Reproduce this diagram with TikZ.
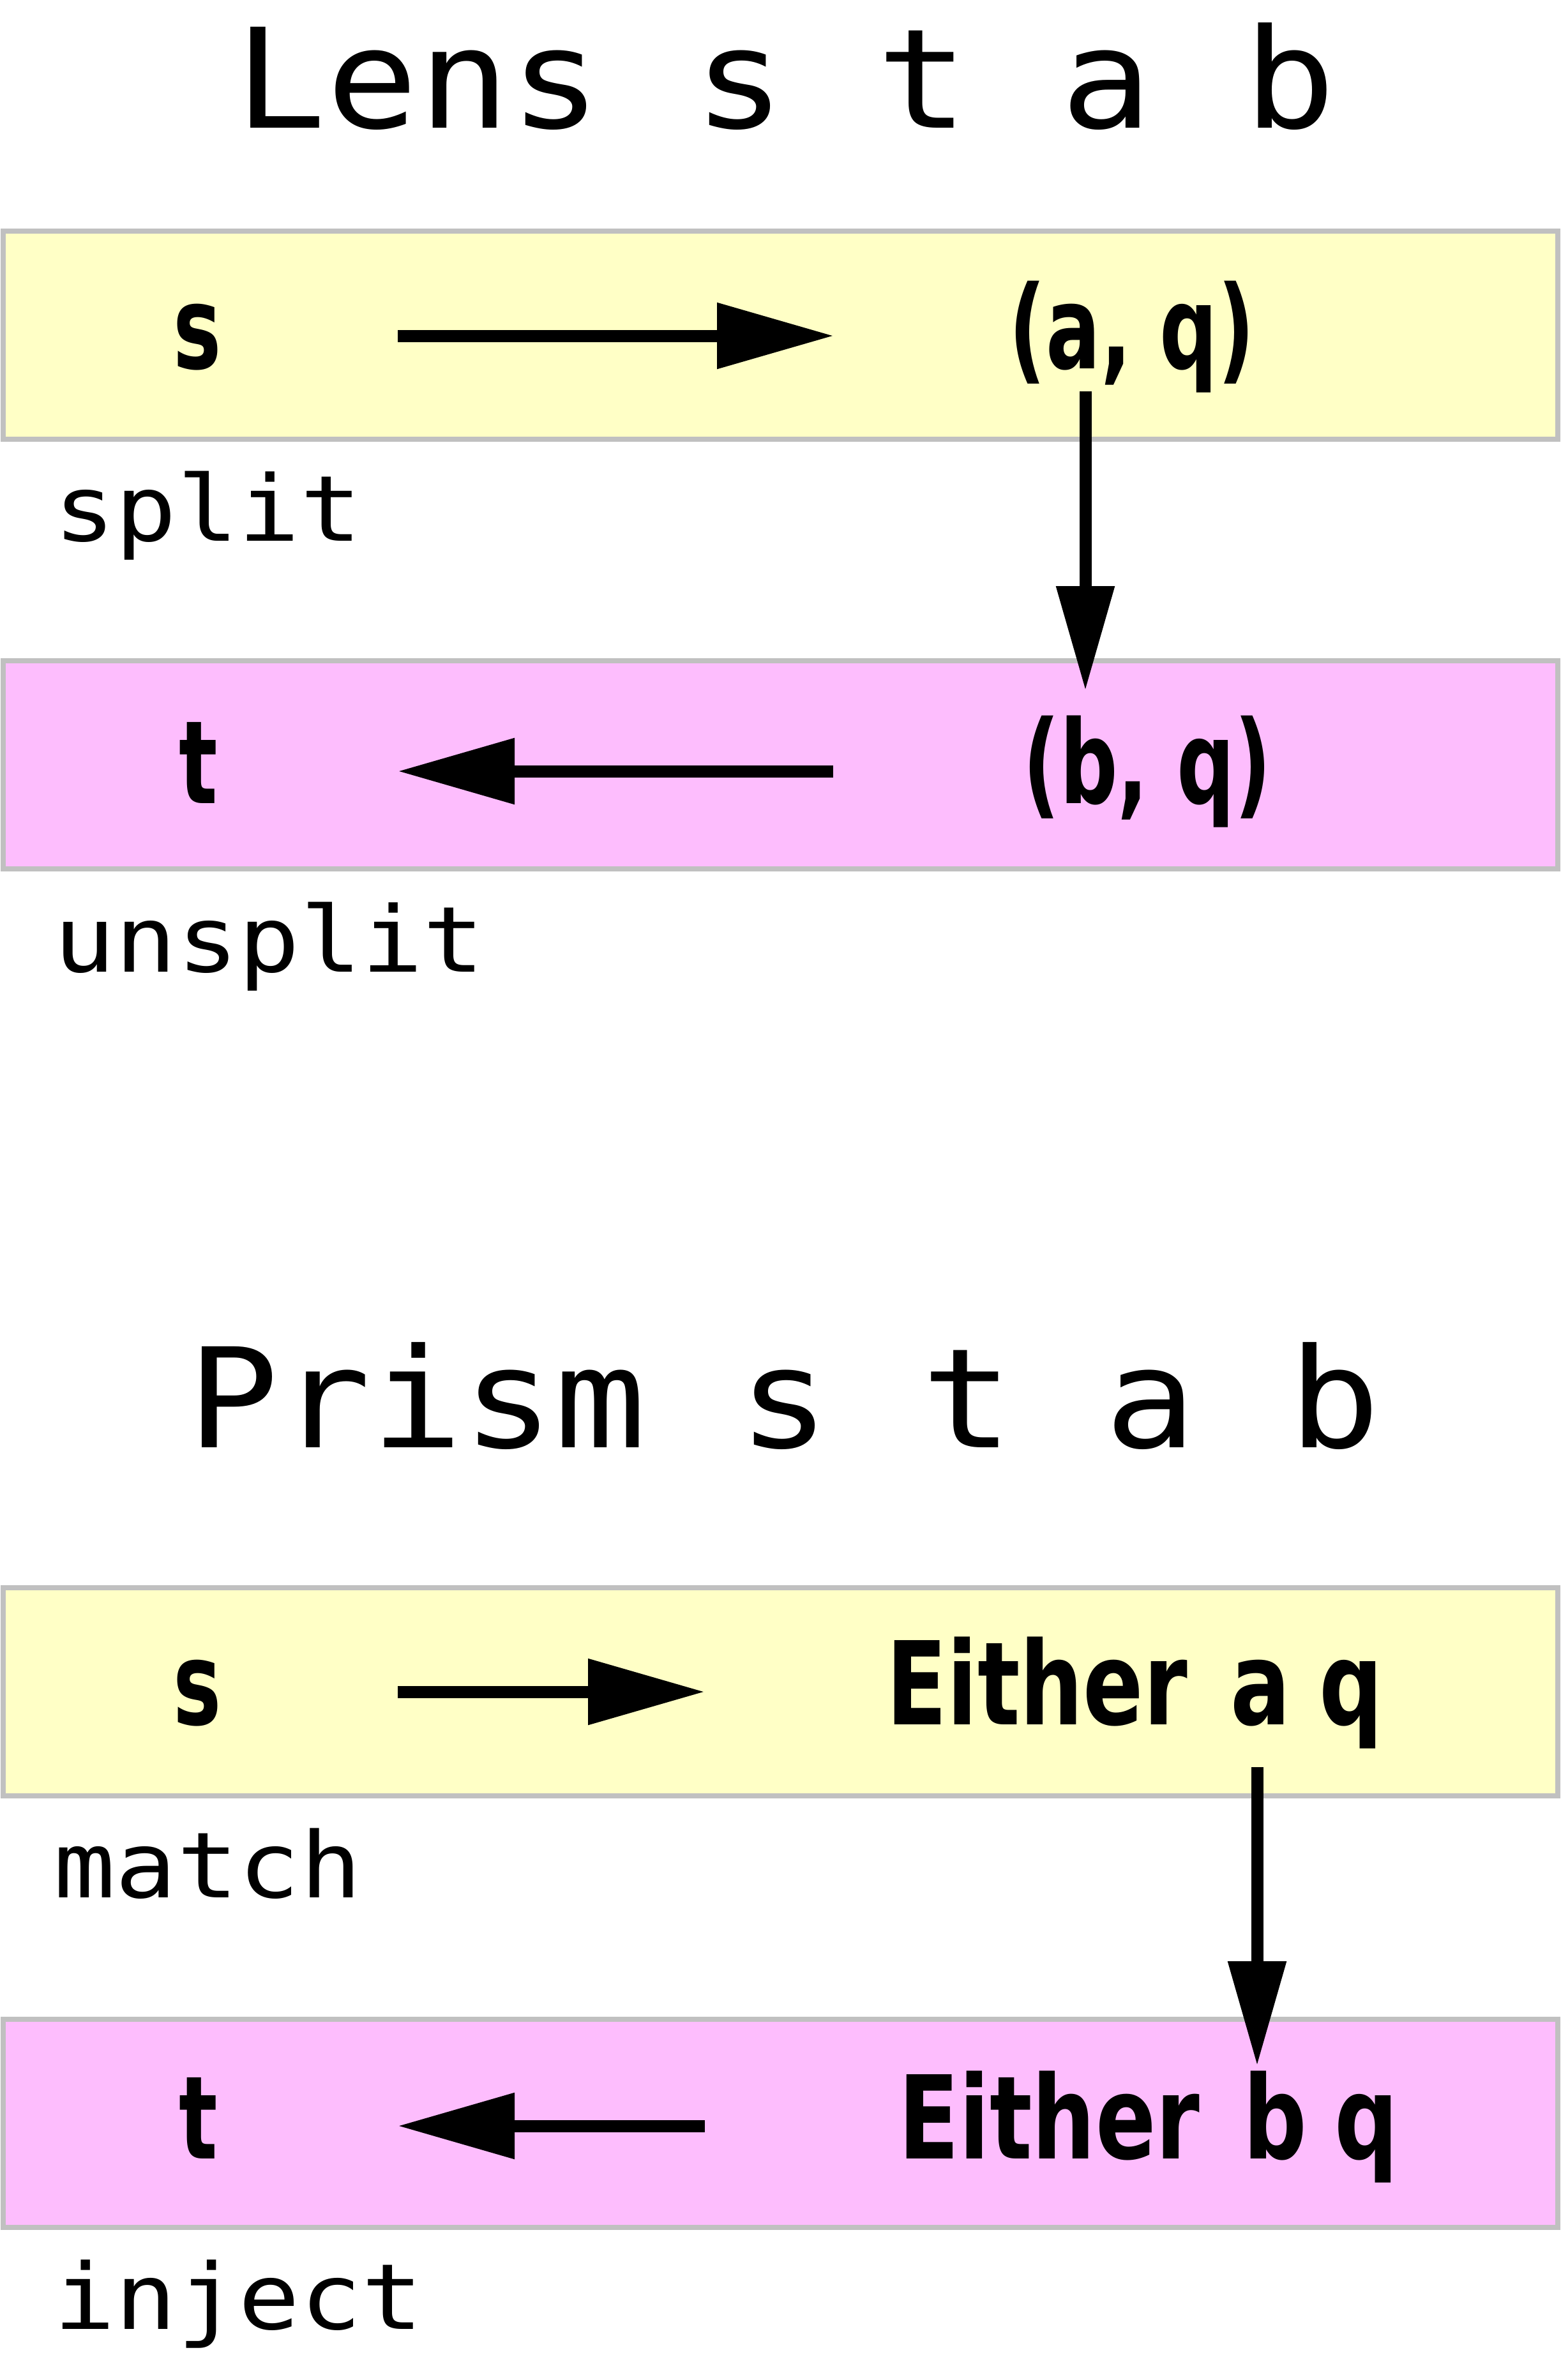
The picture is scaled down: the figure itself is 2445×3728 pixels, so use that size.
\documentclass[tikz,border=0pt]{standalone}
\usepackage{fontspec}
\usetikzlibrary{arrows.meta}
\newfontfamily\titlefont[FakeStretch=1.10]{DejaVu Sans Mono}
\newfontfamily\labelfont[FakeStretch=1.12]{DejaVu Sans Mono}
\newfontfamily\condfont[FakeStretch=0.7]{DejaVu Sans Bold}
\newfontfamily\eitherfont[FakeStretch=0.77]{DejaVu Sans Bold}
\definecolor{boxyellow}{HTML}{FFFFC6}
\definecolor{boxpink}{HTML}{FDBDFD}
\definecolor{boxborder}{HTML}{C0C0C0}
\begin{document}
\begin{tikzpicture}[x=0.5pt,y=-0.5pt,
  title/.style={font=\titlefont\fontsize{108.5pt}{110pt}\selectfont, anchor=base, inner sep=0pt},
  lbl/.style={font=\labelfont\fontsize{71.5pt}{72pt}\selectfont, anchor=base west, inner sep=0pt},
  term/.style={font=\condfont\fontsize{90.5pt}{92pt}\selectfont, anchor=base, inner sep=0pt},
  eterm/.style={font=\eitherfont\fontsize{90.5pt}{92pt}\selectfont, anchor=base, inner sep=0pt},
  band/.style={draw=boxborder, line width=4pt},
  harr/.style={line width=9.5pt, -{Triangle[length=91.5pt,width=49.5pt]}},
  varr/.style={line width=9.5pt, -{Triangle[length=82pt,width=43.5pt]}}
]
\useasboundingbox (0,0) rectangle (2445,3728);

% ---------- Lens ----------
\node[title] (lenstitle) at (1230,200) {Lens s t a b};
\filldraw[band, fill=boxyellow] (5,362) rectangle (2440,688);
\filldraw[band, fill=boxpink] (5,1035) rectangle (2440,1361);

\node[term] (s1) at (309,577) {s};
\node[term] (aq) at (1773,577) {(a, q)};
\node[term] (t1) at (311,1258) {t};
\node[term] (bq) at (1797,1258) {(b, q)};
\node[lbl] (split) at (84,847) {split};
\node[lbl] (unsplit) at (84,1522) {unsplit};

\coordinate (h1s) at (623,526);
\coordinate (h1e) at (1306,526);
\coordinate (v1s) at (1700,613);
\coordinate (v1e) at (1700,1082);
\coordinate (h2s) at (1305,1208);
\coordinate (h2e) at (623,1208);
\draw[harr] (h1s) -- (h1e);
\draw[varr] (v1s) -- (v1e);
\draw[harr] (h2s) -- (h2e);

% ---------- Prism ----------
\node[title] (prismtitle) at (1228,2267) {Prism s t a b};
\filldraw[band, fill=boxyellow] (5,2487) rectangle (2440,2813);
\filldraw[band, fill=boxpink] (5,3163) rectangle (2440,3489);

\node[term] (s2) at (309,2701) {s};
\node[eterm] (eaq) at (1777,2701) {Either\hspace{34pt}a\hspace{22pt}q};
\node[term] (t2) at (311,3381) {t};
\node[eterm] (ebq) at (1799,3381) {Either\hspace{34pt}b\hspace{22pt}q};
\node[lbl] (match) at (84,2972) {match};
\node[lbl] (inject) at (84,3648) {inject};

\coordinate (h3s) at (623,2650);
\coordinate (h3e) at (1104,2650);
\coordinate (v2s) at (1969,2768);
\coordinate (v2e) at (1969,3236);
\coordinate (h4s) at (1104,3330);
\coordinate (h4e) at (623,3330);
\draw[harr] (h3s) -- (h3e);
\draw[varr] (v2s) -- (v2e);
\draw[harr] (h4s) -- (h4e);
\end{tikzpicture}
\end{document}
